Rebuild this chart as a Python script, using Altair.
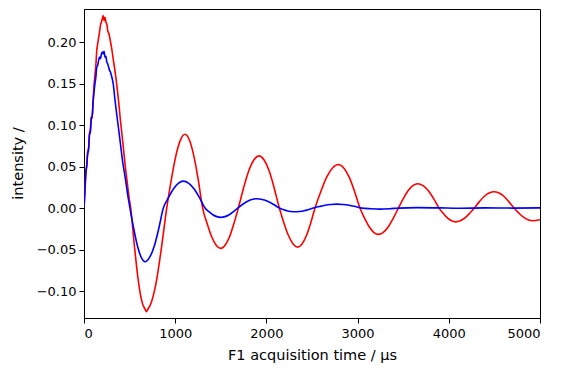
import altair as alt
import pandas as pd

red_t = [0, 10, 20, 30, 40, 50, 60, 70, 80, 90, 100, 110, 120, 130, 140, 150, 160, 170, 180, 190,
         200, 210, 220, 230, 240, 250, 260, 270, 280, 290, 300, 320, 340, 360, 380, 400, 425, 453, 475, 495,
         512, 554, 596, 638, 670, 685, 695, 737, 794, 850, 907,
         957, 1007, 1057, 1107, 1156, 1204, 1253, 1301,
         1350, 1400, 1449, 1499, 1547, 1596, 1644, 1692,
         1749, 1806, 1862, 1919, 1975, 2031, 2086, 2142,
         2192, 2243, 2293, 2343, 2391, 2438, 2486, 2533,
         2597, 2661, 2725, 2789, 2848, 2908, 2967, 3026,
         3076, 3127, 3177, 3227, 3282, 3337, 3392, 3447,
         3500, 3553, 3606, 3659, 3718, 3776, 3835, 3893,
         3939, 3984, 4030, 4075, 4126, 4178, 4229, 4280,
         4334, 4388, 4442, 4496, 4551, 4606, 4660, 4715,
         4766, 4818, 4869, 4920, 5000]
red_v = [0.0, 0.022, 0.045, 0.05, 0.068, 0.072, 0.09, 0.095, 0.11, 0.108, 0.13, 0.148, 0.16, 0.172, 0.19, 0.198, 0.205, 0.212, 0.22, 0.224,
         0.228, 0.232, 0.226, 0.230, 0.224, 0.222, 0.214, 0.211, 0.207, 0.201, 0.195, 0.18, 0.165, 0.148, 0.128, 0.105, 0.080, 0.05, 0.03, 0.012,
         0.0, -0.047, -0.088, -0.114, -0.122, -0.125, -0.123, -0.114, -0.088, -0.047, 0.0,
         0.034, 0.063, 0.082, 0.089, 0.082, 0.063, 0.034, 0.0,
         -0.0185, -0.0345, -0.0447, -0.0486, -0.0447, -0.0345, -0.0185, 0.0,
         0.024, 0.0447, 0.058, 0.063, 0.058, 0.0447, 0.024, 0.0,
         -0.0179, -0.0334, -0.0432, -0.047, -0.0432, -0.0334, -0.0179, 0.0,
         0.020, 0.0373, 0.0484, 0.0526, 0.0484, 0.0373, 0.020, 0.0,
         -0.012, -0.0225, -0.0292, -0.0317, -0.0292, -0.0225, -0.012, 0.0,
         0.0111, 0.0208, 0.027, 0.0293, 0.027, 0.0208, 0.0111, 0.0,
         -0.0063, -0.0118, -0.0153, -0.0166, -0.0153, -0.0118, -0.0063, 0.0,
         0.0075, 0.014, 0.0181, 0.0197, 0.0181, 0.014, 0.0075, 0.0,
         -0.0058, -0.0109, -0.0141, -0.0153, -0.0141]

blue_t = [0, 10, 20, 30, 40, 50, 60, 70, 80, 90, 100, 110, 120, 130, 140, 150, 160, 170, 180, 190,
          200, 210, 220, 230, 240, 250, 260, 270, 280, 290, 300, 320, 340, 360, 380, 400, 425, 450, 475, 504,
          545, 587, 628, 669, 719, 770, 820, 870,
          925, 980, 1034, 1089, 1149, 1208, 1268, 1327,
          1370, 1413, 1456, 1499, 1546, 1592, 1639, 1685,
          1737, 1789, 1841, 1893, 1955, 2018, 2080, 2142,
          2184, 2226, 2268, 2310, 2361, 2413, 2464, 2515,
          2579, 2643, 2706, 2770, 2839, 2908, 2976, 3045,
          3146, 3246, 3350, 3450, 3650, 3900, 4100, 4400, 4700, 5000]
blue_v = [0.0, 0.02, 0.04, 0.052, 0.065, 0.07, 0.088, 0.092, 0.108, 0.112, 0.128, 0.14, 0.15, 0.158, 0.17, 0.172, 0.178, 0.182, 0.18, 0.185,
          0.188, 0.186, 0.189, 0.182, 0.183, 0.176, 0.174, 0.17, 0.166, 0.164, 0.16, 0.150, 0.130, 0.112, 0.095, 0.077, 0.055, 0.038, 0.019, 0.0,
          -0.0246, -0.046, -0.0595, -0.0647, -0.0595, -0.046, -0.0246, 0.0,
          0.0124, 0.0231, 0.0299, 0.0325, 0.0299, 0.0231, 0.0124, 0.0,
          -0.0043, -0.008, -0.0103, -0.0112, -0.0103, -0.008, -0.0043, 0.0,
          0.0043, 0.008, 0.0103, 0.0112, 0.0103, 0.008, 0.0043, 0.0,
          -0.0017, -0.0032, -0.0041, -0.0045, -0.0041, -0.0032, -0.0017, 0.0,
          0.0018, 0.0034, 0.0044, 0.0048, 0.0044, 0.0034, 0.0018, 0.0,
          -0.0008, -0.0012, -0.0008, 0.0, 0.0006, 0.0003, -0.0002, 0.0002, 0.0, 0.0003]

x_ticks = [0, 1000, 2000, 3000, 4000, 5000]
y_ticks = [-0.10, -0.05, 0.00, 0.05, 0.10, 0.15, 0.20]

red_df = pd.DataFrame({"t": red_t, "v": red_v})
blue_df = pd.DataFrame({"t": blue_t, "v": blue_v})

x_enc = alt.X("t:Q", scale=alt.Scale(domain=[0, 5000], nice=False, zero=False),
              axis=alt.Axis(values=x_ticks, format="d", title="F1 acquisition time / µs",
                            titleX=228, titleY=41, titleAlign="center", titleBaseline="alphabetic",
                            labelPadding=4))
y_enc = alt.Y("v:Q", scale=alt.Scale(domain=[-0.1325, 0.240], nice=False, zero=False),
              axis=alt.Axis(values=y_ticks, format=".2f", title="intensity /",
                            titleX=-62, titleY=154, titleAngle=-90, titleAlign="center",
                            titleBaseline="alphabetic", labelPadding=3))

red = alt.Chart(red_df).mark_line(color="#ff0000", strokeWidth=1.6, interpolate="monotone", clip=True).encode(x=x_enc, y=y_enc)
blue = alt.Chart(blue_df).mark_line(color="#0000ff", strokeWidth=1.6, interpolate="monotone", clip=True).encode(x=x_enc, y=y_enc)

chart = alt.layer(red, blue).properties(
    width=456, height=309,
    autosize=alt.AutoSizeParams(type="none"),
    padding={"left": 76, "top": 1, "right": 18, "bottom": 48},
).configure_view(
    stroke="black", strokeWidth=1
).configure_axis(
    grid=False, domainColor="black", tickColor="black", tickSize=5, tickWidth=1,
    labelColor="black", titleColor="black", labelFont="DejaVu Sans", titleFont="DejaVu Sans",
    labelFontSize=13, titleFontSize=14.5, titleFontWeight="normal", domainWidth=1
)

chart.save("out.html", embed_options={"renderer": "svg", "actions": False})
